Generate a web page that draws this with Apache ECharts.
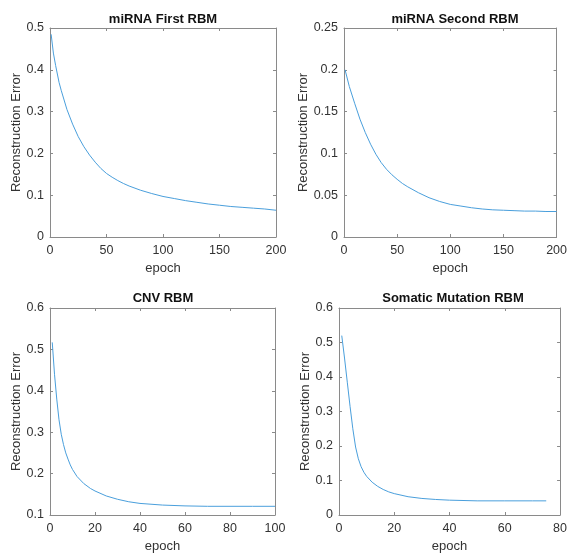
<!DOCTYPE html>
<html>
<head>
<meta charset="utf-8">
<script src="https://cdn.jsdelivr.net/npm/echarts@6/dist/echarts.min.js"></script>
<style>html,body{margin:0;padding:0;background:#fff}#c{width:570px;height:554px}</style>
</head>
<body>
<div id="c"></div>
<script>
// ---- data ----
const titles = ["miRNA First RBM", "miRNA Second RBM", "CNV RBM", "Somatic Mutation RBM"];
const yAxisName = "Reconstruction Error";
const xAxisName = "epoch";

const p1Epochs = [1,3,5,8,10,15,20,25,30,35,40,45,50,55,60,65,70,80,90,100,110,120,130,140,150,160,170,180,190,200];
const p1Values = [0.485,0.44,0.41,0.37,0.35,0.305,0.27,0.24,0.216,0.196,0.179,0.164,0.152,0.143,0.135,0.128,0.122,0.112,0.104,0.097,0.092,0.087,0.083,0.079,0.076,0.073,0.071,0.069,0.067,0.064];

const p2Epochs = [1,5,10,15,20,25,30,35,40,45,50,55,60,70,80,90,100,110,120,130,140,150,160,170,180,190,200];
const p2Values = [0.2,0.18,0.16,0.141,0.125,0.111,0.099,0.089,0.081,0.0745,0.069,0.064,0.06,0.053,0.047,0.0425,0.039,0.037,0.035,0.0335,0.0325,0.032,0.0315,0.031,0.031,0.0305,0.0305];

const p3Epochs = [1,2,3,4,5,6,7,8,9,10,12,15,18,20,25,30,35,40,50,60,70,80,90,100];
const p3Values = [0.517,0.44,0.38,0.33,0.295,0.27,0.25,0.235,0.221,0.21,0.193,0.176,0.164,0.158,0.146,0.138,0.132,0.128,0.124,0.122,0.121,0.121,0.121,0.121];

const p4Epochs = [1,2,3,4,5,6,7,8,9,10,12,14,16,18,20,25,30,35,40,50,60,70,75];
const p4Values = [0.52,0.455,0.385,0.315,0.25,0.197,0.163,0.14,0.124,0.112,0.095,0.083,0.074,0.067,0.062,0.053,0.048,0.045,0.043,0.041,0.041,0.041,0.041];

const xRanges = [[0,200,50],[0,200,50],[0,100,20],[0,80,20]];
const yRanges = [[0,0.5,0.1],[0,0.25,0.05],[0.1,0.6,0.1],[0,0.6,0.1]];

// ---- layout ----
const grids = [
  {left:50, top:28, width:226, height:209},
  {left:344, top:28, width:219, height:209},
  {left:50, top:308, width:225, height:208},
  {left:339, top:308, width:228, height:211}
];
const titlePos = [[163,13],[455,13],[163,292],[453,292]];
const series = [[p1Epochs,p1Values],[p2Epochs,p2Values],[p3Epochs,p3Values],[p4Epochs,p4Values]];

const FONT = "'Liberation Sans', Arial, sans-serif";
const AX = '#8a8a8a';
const TXT = '#333';

const option = {
  animation:false,
  backgroundColor:'#fff',
  title: titles.map((t,i)=>({
    text:t, left:titlePos[i][0], top:titlePos[i][1], textAlign:'center', padding:0,
    textStyle:{fontFamily:FONT, fontSize:13, fontWeight:'bold', color:'#111'}
  })),
  grid: grids.map(g=>Object.assign({containLabel:false}, g)),
  xAxis: [],
  yAxis: [],
  series: []
};

grids.forEach((g,i)=>{
  const [xmin,xmax,xint] = xRanges[i];
  const [ymin,ymax,yint] = yRanges[i];
  const mk = () => ({
    axisLine:{show:true, onZero:false, lineStyle:{color:AX, width:1}},
    axisTick:{show:true, inside:true, length:3, lineStyle:{color:AX}},
    splitLine:{show:false}
  });
  option.xAxis.push(Object.assign({
    type:'value', gridIndex:i, min:xmin, max:xmax, interval:xint, position:'bottom',
    name:xAxisName, nameLocation:'middle', nameGap:25,
    nameTextStyle:{fontFamily:FONT, fontSize:13, color:TXT},
    axisLabel:{fontFamily:FONT, fontSize:12.5, color:TXT, margin:7, showMaxLabel:true}
  }, mk()));
  option.xAxis.push(Object.assign({
    type:'value', gridIndex:i, min:xmin, max:xmax, interval:xint, position:'top',
    axisLabel:{show:false}
  }, mk()));
  option.yAxis.push(Object.assign({
    type:'value', gridIndex:i, min:ymin, max:ymax, interval:yint, position:'left',
    name:yAxisName, nameLocation:'middle', nameGap:25,
    nameTextStyle:{fontFamily:FONT, fontSize:13, color:TXT},
    axisLabel:{fontFamily:FONT, fontSize:12.5, color:TXT, margin:6,
      formatter:v=>String(+v.toFixed(3))}
  }, mk()));
  option.yAxis.push(Object.assign({
    type:'value', gridIndex:i, min:ymin, max:ymax, interval:yint, position:'right',
    axisLabel:{show:false}
  }, mk()));
  const [ex, vals] = series[i];
  option.series.push({
    type:'line', xAxisIndex:i*2, yAxisIndex:i*2, smooth:false, showSymbol:false,
    lineStyle:{color:'#4a9fdc', width:1},
    data: ex.map((e,k)=>[e, vals[k]])
  });
});

const chart = echarts.init(document.getElementById('c'), null, {renderer:'canvas'});
chart.setOption(option);
</script>
</body>
</html>
